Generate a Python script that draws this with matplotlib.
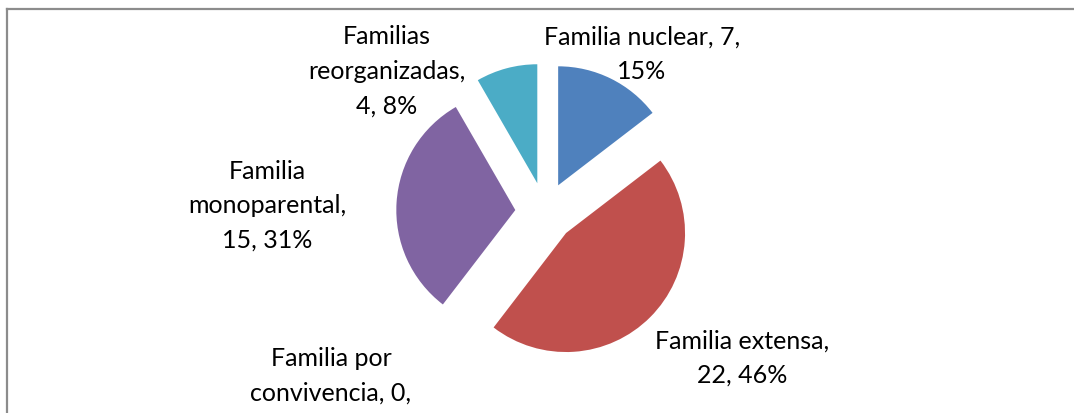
import matplotlib
matplotlib.use("Agg")
import matplotlib.pyplot as plt
from matplotlib.lines import Line2D
import numpy as np

# datos del gráfico
categorias = ["Familia nuclear", "Familia extensa", "Familia por convivencia",
              "Familia monoparental", "Familias reorganizadas"]
valores = [7, 22, 0, 15, 4]
etiquetas = ["Familia nuclear, 7,\n15%",
             "Familia extensa,\n22, 46%",
             "Familia por\nconvivencia, 0,\n0%",
             "Familia\nmonoparental,\n15, 31%",
             "Familias\nreorganizadas,\n4, 8%"]
colores = ["#4F81BD", "#C0504D", "#9BBB59", "#8064A2", "#4BACC6"]

# posición de las etiquetas (en radios del pastel)
pos_etiquetas = [(0.815, 1.335), (1.655, -1.22), (-1.798, -1.51),
                 (-2.336, 0.06), (-1.328, 1.19)]

W, H = 1074, 414
R_PX = 119.0      # radio en píxeles
CX, CY = 545, 213  # centro en píxeles (desde arriba)

plt.rcParams['font.family'] = ['Lato', 'DejaVu Sans']

fig = plt.figure(figsize=(W / 100, H / 100), dpi=100)
ax = fig.add_axes([0, 0, 1, 1])
ax.pie(valores, colors=colores, startangle=90, counterclock=False,
       explode=[0.25] * len(valores), radius=1.0, center=(0, 0),
       wedgeprops=dict(linewidth=0))
ax.set_xlim(-CX / R_PX, (W - CX) / R_PX)
ax.set_ylim(-(H - CY) / R_PX, CY / R_PX)
ax.set_aspect("equal")
ax.axis("off")

for txt, (x, y) in zip(etiquetas, pos_etiquetas):
    ax.text(x, y, txt, ha="center", va="center", fontsize=18,
            linespacing=1.6, color="black")

# marco del gráfico (recortado a la derecha y abajo)
borde = "#8c8c8c"
fig.add_artist(Line2D([7.5 / W, 7.5 / W], [0, 1 - 9.5 / H],
                      transform=fig.transFigure, color=borde, lw=1.6))
fig.add_artist(Line2D([7.5 / W, 1], [1 - 9.5 / H, 1 - 9.5 / H],
                      transform=fig.transFigure, color=borde, lw=1.6))

fig.savefig("out.png", dpi=100)
